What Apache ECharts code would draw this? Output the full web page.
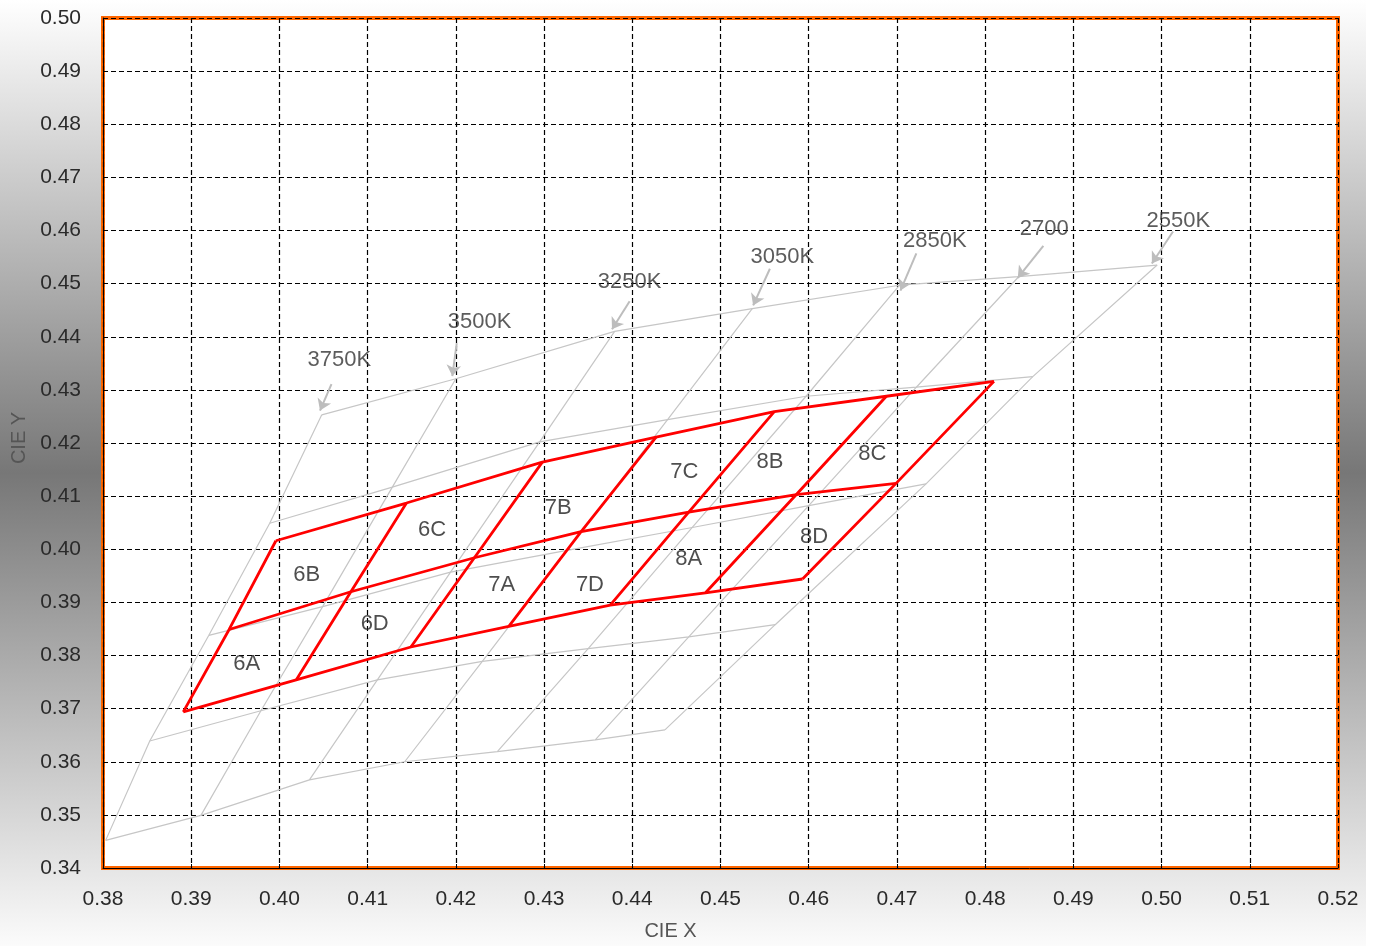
<!DOCTYPE html>
<html>
<head>
<meta charset="utf-8">
<script src="https://cdn.jsdelivr.net/npm/echarts@6/dist/echarts.min.js"></script>
<style>
html,body{margin:0;padding:0;background:#ffffff;overflow:hidden;width:1374px;height:946px;}
#chart{position:fixed;left:0;top:0;width:1366px;height:946px;}
</style>
</head>
<body>
<div id="chart"></div>
<script>
// ---- axis ranges ----
const xMin = 0.38, xMax = 0.52, yMin = 0.34, yMax = 0.50, tickStep = 0.01;

// ---- red bin grid (top / middle / bottom boundary lines, 7 isotherm columns) ----
const redTop = [[0.3996,0.4016],[0.4144,0.4087],[0.4298,0.4164],[0.4427,0.4211],[0.4561,0.4259],[0.4688,0.4288],[0.4810,0.4316]];
const redMid = [[0.3943,0.3849],[0.4081,0.3920],[0.4221,0.3984],[0.4342,0.4033],[0.4464,0.4070],[0.4586,0.4103],[0.4699,0.4124]];
const redBot = [[0.3891,0.3694],[0.4019,0.3754],[0.4149,0.3816],[0.4260,0.3855],[0.4375,0.3895],[0.4483,0.3918],[0.4593,0.3944]];

// ---- gray reference grid (5 duv rows x 7 isotherms) ----
const grayRow1 = [[0.4048,0.4253],[0.4200,0.4321],[0.4380,0.4410],[0.4536,0.4453],[0.4703,0.4497],[0.4838,0.4513],[0.4995,0.4535]];
const grayRow2 = [[0.3989,0.4049],[0.4128,0.4117],[0.4295,0.4202],[0.4440,0.4244],[0.4597,0.4288],[0.4722,0.4305],[0.4854,0.4325]];
const grayRow3 = [[0.3920,0.3838],[0.4049,0.3892],[0.4194,0.3957],[0.4326,0.3998],[0.4468,0.4041],[0.4600,0.4082],[0.4733,0.4123]];
const grayRow4 = [[0.3853,0.3639],[0.3979,0.3696],[0.4111,0.3754],[0.4230,0.3789],[0.4350,0.3813],[0.4464,0.3835],[0.4562,0.3858]];
const grayRow5 = [[0.3803,0.3452],[0.3911,0.3499],[0.4034,0.3566],[0.4142,0.3600],[0.4247,0.3619],[0.4358,0.3641],[0.4437,0.3660]];

// ---- CCT labels and arrows ----
const cctNames  = ['3750K','3500K','3250K','3050K','2850K','2700','2550K'];
const cctLabelX = [0.4068,0.4227,0.4397,0.4570,0.4743,0.4867,0.5019];
const cctLabelY = [0.4357,0.4427,0.4503,0.4551,0.4581,0.4603,0.4618];
const arrowTail = [[0.4059,0.4311],[0.4201,0.4388],[0.4397,0.4467],[0.4556,0.4528],[0.4722,0.4557],[0.4866,0.4571],[0.5013,0.4598]];
const arrowTip  = [[0.4046,0.4261],[0.4196,0.4326],[0.4377,0.4414],[0.4537,0.4459],[0.4704,0.4487],[0.4837,0.4511],[0.4989,0.4538]];

// ---- bin labels ----
const binNames  = ['6A','6B','6C','6D','7A','7B','7C','7D','8A','8B','8C','8D'];
const binLabelX = [0.3963,0.4031,0.4173,0.4108,0.4252,0.4316,0.4459,0.4352,0.4464,0.4556,0.4672,0.4606];
const binLabelY = [0.3784,0.3952,0.4036,0.3859,0.3932,0.4077,0.4145,0.3932,0.3982,0.4164,0.4180,0.4023];

const FONT = 'Liberation Sans, Arial, sans-serif';
const GRAY = '#c6c6c6';
const RED = '#ff0000';

const series = [];
function addLine(pts, color, width, z) {
  series.push({
    type: 'line', data: pts, showSymbol: false, symbol: 'none', silent: true,
    lineStyle: { color: color, width: width }, z: z, animation: false
  });
}
const grayRows = [grayRow1, grayRow2, grayRow3, grayRow4, grayRow5];
grayRows.forEach(r => addLine(r, GRAY, 1.2, 2));
for (let j = 0; j < grayRow1.length; j++) {
  addLine(grayRows.map(r => r[j]), GRAY, 1.2, 2);
}
[redTop, redMid, redBot].forEach(r => addLine(r, RED, 2.8, 5));
for (let j = 0; j < redTop.length; j++) {
  addLine([redBot[j], redMid[j], redTop[j]], RED, 2.8, 5);
}

series.push({
  type: 'lines', coordinateSystem: 'cartesian2d', polyline: false, silent: true,
  symbol: ['none', 'arrow'], symbolSize: 11, z: 3, animation: false,
  lineStyle: { color: '#bdbdbd', width: 2, opacity: 1 },
  data: arrowTail.map((t, i) => ({ coords: [t, arrowTip[i]] }))
});

function addTextSeries(names, xs, ys, size, color) {
  series.push({
    type: 'scatter', silent: true, symbol: 'circle', symbolSize: 1, z: 6, animation: false,
    itemStyle: { color: 'rgba(0,0,0,0)' },
    label: {
      show: true, position: 'inside', formatter: p => p.name,
      fontFamily: FONT, fontSize: size, color: color
    },
    data: names.map((n, i) => ({ name: n, value: [xs[i], ys[i]] }))
  });
}
addTextSeries(cctNames, cctLabelX, cctLabelY, 22, '#333333');
addTextSeries(binNames, binLabelX, binLabelY, 22, '#222222');

const axisCommon = {
  type: 'value', interval: tickStep,
  axisLine: { show: true, lineStyle: { color: '#000', width: 1 } },
  axisTick: { show: true, inside: true, length: 4, lineStyle: { color: '#000' } },
  splitLine: { show: true, lineStyle: { color: '#000', width: 1.2, type: [5, 3] } },
  axisLabel: { fontFamily: FONT, fontSize: 21, color: '#2a2a2a', formatter: v => v.toFixed(2) },
  nameLocation: 'middle',
  nameTextStyle: { fontFamily: FONT, fontSize: 20, color: '#555' }
};

const el = document.getElementById('chart');
const chart = echarts.init(el, null, { renderer: 'canvas', width: 1366, height: 946 });
chart.setOption({
  animation: false,
  backgroundColor: new echarts.graphic.LinearGradient(0, 0, 0, 1, [
    { offset: 0, color: '#ffffff' },
    { offset: 0.5, color: '#777777' },
    { offset: 1, color: '#fbfbfb' }
  ]),
  grid: {
    left: 103, top: 18, right: 28, bottom: 73,
    show: true, backgroundColor: '#ffffff', borderColor: '#ff6600', borderWidth: 4
  },
  xAxis: Object.assign({}, axisCommon, {
    min: xMin, max: xMax, name: 'CIE X', nameGap: 53,
    axisLabel: Object.assign({}, axisCommon.axisLabel, { margin: 21 }),
    nameTextStyle: Object.assign({}, axisCommon.nameTextStyle, { padding: [0, 100, 0, 0] })
  }),
  yAxis: Object.assign({}, axisCommon, {
    min: yMin, max: yMax, name: 'CIE Y', nameGap: 73, nameRotate: 90,
    axisLabel: Object.assign({}, axisCommon.axisLabel, { margin: 22 }),
    nameTextStyle: Object.assign({}, axisCommon.nameTextStyle, { padding: [0, 0, 0, 10] })
  }),
  series: series
});
</script>
</body>
</html>
